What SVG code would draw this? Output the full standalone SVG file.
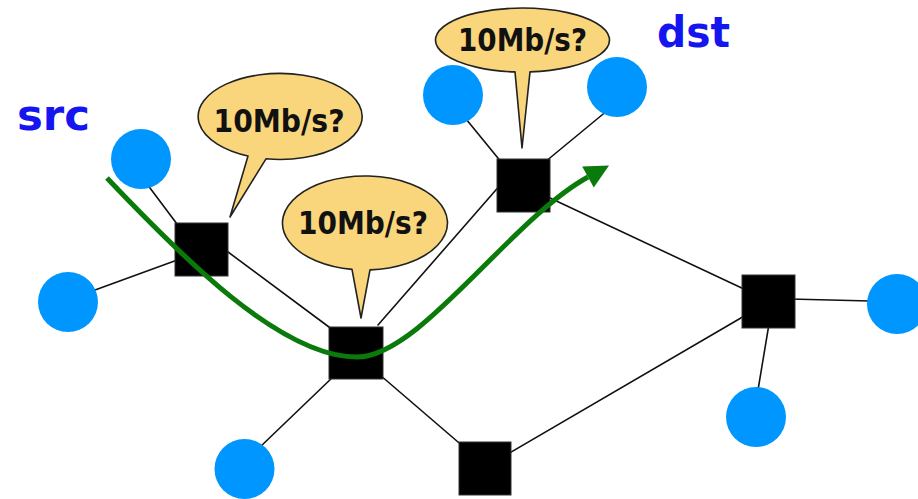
<svg xmlns="http://www.w3.org/2000/svg" width="918" height="499" viewBox="0 0 918 499">
<style>
.link{stroke:#111;stroke-width:1.6;fill:none;stroke-linecap:round}
.host{fill:#0096ff}
.router{fill:#000;stroke:#333;stroke-width:1}
.bubble{fill:#f9d57c;stroke:#222;stroke-width:1.6;stroke-linejoin:round}
.btext{font-family:"DejaVu Sans","Verdana",sans-serif;font-weight:bold;font-size:32px;fill:#111;text-anchor:middle}
.label{font-family:"DejaVu Sans","Verdana",sans-serif;font-weight:bold;font-size:43px;fill:#1515f0}
.flow{fill:none;stroke:#0a7a0a;stroke-width:5}
</style>
<defs>
<marker id="ah" markerUnits="userSpaceOnUse" markerWidth="24" markerHeight="24" refX="0" refY="12" orient="auto" overflow="visible">
<path d="M0,0 L24,12 L0,24 Z" fill="#0a7a0a"/>
</marker>
</defs>
<g id="links">
<line class="link" x1="147" y1="184" x2="180" y2="228"/>
<line class="link" x1="95" y1="290" x2="180" y2="259"/>
<line class="link" x1="224" y1="249" x2="333" y2="330"/>
<line class="link" x1="378" y1="325" x2="502" y2="183"/>
<line class="link" x1="466" y1="119" x2="502" y2="163"/>
<line class="link" x1="608" y1="110" x2="545" y2="162"/>
<line class="link" x1="550" y1="198" x2="746" y2="290"/>
<line class="link" x1="380" y1="375" x2="465" y2="448"/>
<line class="link" x1="334" y1="376" x2="260" y2="447"/>
<line class="link" x1="506" y1="455" x2="746" y2="315"/>
<line class="link" x1="790" y1="299" x2="870" y2="301"/>
<line class="link" x1="769" y1="324" x2="758" y2="390"/>
</g>
<g id="h1"><circle class="host" cx="141" cy="159" r="30"/></g>
<g id="h2"><circle class="host" cx="68" cy="302" r="30"/></g>
<g id="h3"><circle class="host" cx="244.5" cy="469" r="30"/></g>
<g id="h4"><circle class="host" cx="453" cy="95" r="30"/></g>
<g id="h5"><circle class="host" cx="617" cy="87" r="30"/></g>
<g id="h6"><circle class="host" cx="897" cy="304" r="30"/></g>
<g id="h7"><circle class="host" cx="756" cy="417" r="30"/></g>
<g id="r1"><rect class="router" x="175" y="223" width="53" height="53"/></g>
<g id="r2"><rect class="router" x="329" y="327" width="54" height="52"/></g>
<g id="r3"><rect class="router" x="497" y="159" width="53" height="53"/></g>
<g id="r4"><rect class="router" x="742" y="275" width="53" height="53"/></g>
<g id="r5"><rect class="router" x="459" y="442" width="52" height="53"/></g>
<g id="bubble1">
<path class="bubble" d="M248,156 L230,217 L266,158.8 A82,43 0 1 0 248,156 Z"/>
<text class="btext" x="279" y="132" textLength="131" lengthAdjust="spacingAndGlyphs">10Mb/s?</text>
</g>
<g id="bubble2">
<path class="bubble" d="M352,269.4 L361,318 L370,269.9 A82.5,47 0 1 0 352,269.4 Z"/>
<text class="btext" x="363" y="234" textLength="130" lengthAdjust="spacingAndGlyphs">10Mb/s?</text>
</g>
<g id="bubble3">
<path class="bubble" d="M515,71.9 L522,148 L530,71.9 A87,32 0 1 0 515,71.9 Z"/>
<text class="btext" x="522.5" y="51" textLength="129" lengthAdjust="spacingAndGlyphs">10Mb/s?</text>
</g>
<g id="src"><text class="label" x="17" y="130" textLength="73" lengthAdjust="spacingAndGlyphs">src</text></g>
<g id="dst"><text class="label" x="657" y="47" textLength="73" lengthAdjust="spacingAndGlyphs">dst</text></g>
<g id="flow">
<path class="flow" d="M107,178 C180,255 280,357 357,357 C420,357 510,220 588,177" marker-end="url(#ah)"/>
</g>
</svg>
